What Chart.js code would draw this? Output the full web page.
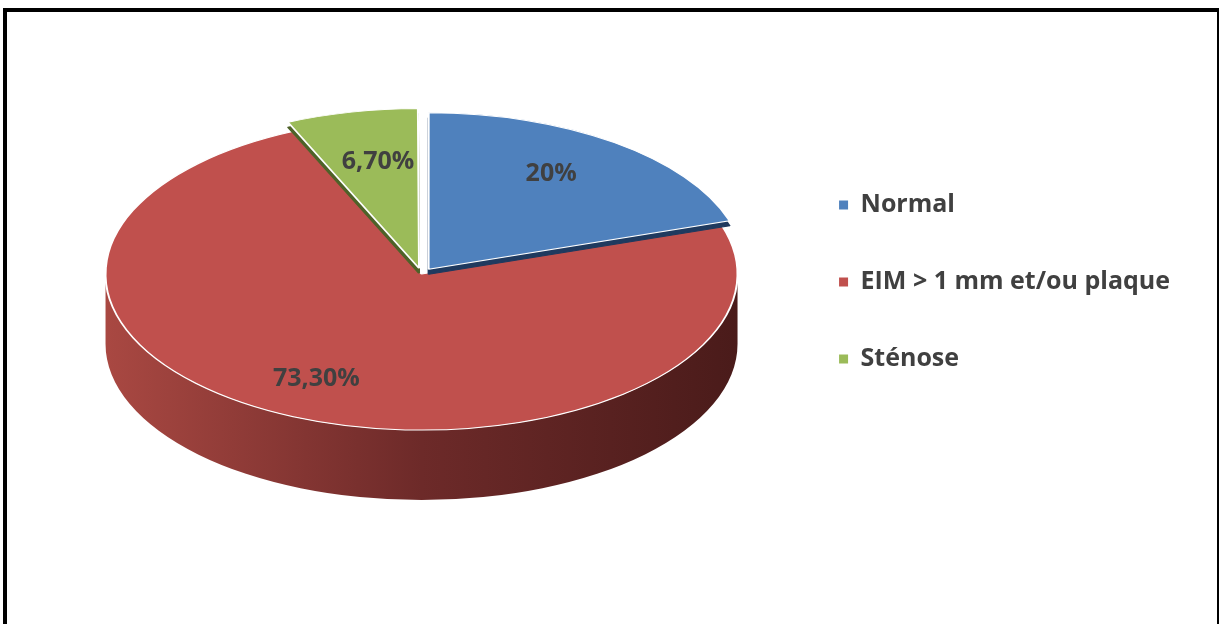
<!DOCTYPE html>
<html>
<head>
<meta charset="utf-8">
<script src="https://cdn.jsdelivr.net/npm/chart.js@4.4.1/dist/chart.umd.min.js"></script>
<style>
  html, body { margin: 0; padding: 0; background: #fff; overflow: hidden; }
  #wrap { position: relative; width: 1221px; height: 624px; }
  #pie { position: absolute; left: 0; top: 0; }
  #frame {
    position: absolute; left: 3px; top: 8px; width: 1210px; height: 700px;
    border-left: 4px solid #000; border-top: 4px solid #000; border-right: 2px solid #000;
    pointer-events: none;
  }
</style>
</head>
<body>
<div id="wrap">
  <canvas id="pie" width="1221" height="624"></canvas>
  <div id="frame"></div>
</div>
<script>
// categories and shares (%)
const labels = ["Normal", "EIM > 1 mm et/ou plaque", "Sténose"];
const values = [20, 73.3, 6.7];
const colors = ["#4F81BD", "#C0504D", "#9BBB59"];
const sideColors = ["#1F3A5F", null, "#4E6228"];   // edge colour of pulled-out slices
const explode = [48, 0, 48];
const labelRadius = [0.66, 0.82, 0.62];            // label distance, fraction of radius

// 3d look
const TILT = 0.494;   // vertical squash of the disc
const LIFT = 8;       // disc drawn a bit above the legend centre
const LABEL_LIFT = 12;
const DEPTH = 70;     // wall height in px
const RAISE = 5;      // visible edge under pulled-out slices
const wallStops = ["#A94842", "#6D2A29", "#4A1B1A"];

const fmt = v => (v % 1 === 0 ? v : v.toFixed(2).replace(".", ",")) + "%";
const FONT = "'Open Sans', sans-serif";

const pie3d = {
  id: "pie3d",
  beforeDatasetDraw(chart, args) {
    const ctx = chart.ctx;
    const arcs = chart.getDatasetMeta(args.index).data;
    const cx = arcs[0].x, cy = arcs[0].y, R = arcs[0].outerRadius;

    ctx.save();
    ctx.translate(cx, cy - LIFT);
    ctx.scale(1, TILT);
    ctx.translate(-cx, -cy);

    // front wall for the slices that stay in place
    const d = DEPTH / TILT;
    arcs.forEach((arc, i) => {
      if (explode[i]) return;
      [0, 2 * Math.PI].forEach(s => {
        const a0 = Math.max(arc.startAngle, s);
        const a1 = Math.min(arc.endAngle, s + Math.PI);
        if (a1 <= a0) return;
        const g = ctx.createLinearGradient(cx - R, 0, cx + R, 0);
        g.addColorStop(0, wallStops[0]);
        g.addColorStop(0.5, wallStops[1]);
        g.addColorStop(1, wallStops[2]);
        ctx.beginPath();
        ctx.arc(cx, cy, R, a0, a1);
        ctx.arc(cx, cy + d, R, a1, a0, true);
        ctx.closePath();
        ctx.fillStyle = g;
        ctx.fill();
      });
    });

    // top faces: flat slices first, pulled-out ones over them
    const order = arcs.map((a, i) => i).sort((a, b) => explode[a] - explode[b]);
    order.forEach(i => {
      const arc = arcs[i];
      if (sideColors[i]) {
        ctx.save();
        ctx.translate(0, RAISE / TILT);
        const bg = arc.options.backgroundColor, bc = arc.options.borderColor;
        arc.options.backgroundColor = sideColors[i];
        arc.options.borderColor = sideColors[i];
        arc.draw(ctx);
        arc.options.backgroundColor = bg;
        arc.options.borderColor = bc;
        ctx.restore();
      }
      arc.draw(ctx);
    });
    ctx.restore();

    // value labels
    ctx.save();
    ctx.font = "bold 25px " + FONT;
    ctx.fillStyle = "#404040";
    ctx.textAlign = "center";
    ctx.textBaseline = "middle";
    arcs.forEach((arc, i) => {
      const mid = (arc.startAngle + arc.endAngle) / 2;
      const r = labelRadius[i] * R + (explode[i] || 0) / 4;
      const px = cx + Math.cos(mid) * r;
      const py = cy - LIFT - LABEL_LIFT + Math.sin(mid) * r * TILT;
      ctx.fillText(fmt(values[i]), px, py);
    });
    ctx.restore();
    return false;
  }
};

new Chart(document.getElementById("pie"), {
  type: "pie",
  data: {
    labels: labels,
    datasets: [{
      data: values,
      backgroundColor: colors,
      borderColor: "#ffffff",
      borderWidth: 2,
      offset: explode,
      radius: 316
    }]
  },
  options: {
    responsive: false,
    animation: false,
    events: [],
    layout: { padding: { left: 56, right: 41, top: 14, bottom: 74 } },
    plugins: {
      tooltip: { enabled: false },
      legend: {
        position: "right",
        labels: {
          boxWidth: 9,
          boxHeight: 9,
          padding: 52,
          color: "#404040",
          font: { family: FONT, size: 25, weight: "bold" },
          generateLabels(chart) {
            return Chart.overrides.pie.plugins.legend.labels.generateLabels(chart)
              .map(l => ({ ...l, lineWidth: 0, strokeStyle: l.fillStyle }));
          }
        }
      }
    }
  },
  plugins: [pie3d]
});
</script>
</body>
</html>
